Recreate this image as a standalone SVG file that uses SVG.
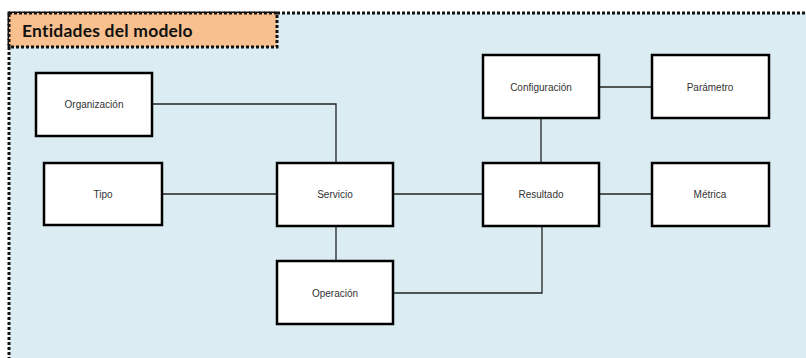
<svg xmlns="http://www.w3.org/2000/svg" width="806" height="358" viewBox="0 0 806 358">
<style>
.box{fill:#fff;stroke:#000;stroke-width:2.5}
.lbl{font-family:"Liberation Sans",Arial,sans-serif;font-size:10px;fill:#333;text-anchor:middle;dominant-baseline:central}
.conn{fill:none;stroke:#222;stroke-width:1.3}
.dot{stroke:#111;stroke-width:3;stroke-dasharray:3 2}
</style>
<rect x="9" y="13" width="800" height="350" fill="#DBEDF3"/>
<path class="dot" fill="none" d="M9,360 V13 H806"/>
<g id="title">
<rect x="9" y="13" width="268" height="34" style="fill:#F9C08F" class="dot"/>
<text x="22" y="30" font-family="Lato,'Open Sans',sans-serif" font-weight="bold" font-size="17.5" letter-spacing="0.2" fill="#111" dominant-baseline="central">Entidades del modelo</text>
</g>
<g id="connectors">
<path class="conn" d="M152,104 H336 V163"/>
<path class="conn" d="M162,194 H277"/>
<path class="conn" d="M393,194 H483"/>
<path class="conn" d="M336,226 V261"/>
<path class="conn" d="M393,293 H542 V226"/>
<path class="conn" d="M541,118 V163"/>
<path class="conn" d="M599,87 H652"/>
<path class="conn" d="M599,194 H652"/>
</g>
<g id="organizacion"><rect class="box" x="36" y="73" width="116" height="63"/><text class="lbl" x="94" y="104">Organización</text></g>
<g id="tipo"><rect class="box" x="44" y="163" width="118" height="62"/><text class="lbl" x="103" y="194">Tipo</text></g>
<g id="servicio"><rect class="box" x="277" y="163" width="116" height="63"/><text class="lbl" x="335" y="194">Servicio</text></g>
<g id="operacion"><rect class="box" x="277" y="261" width="116" height="63"/><text class="lbl" x="335" y="293">Operación</text></g>
<g id="configuracion"><rect class="box" x="483" y="55" width="116" height="63"/><text class="lbl" x="541" y="87">Configuración</text></g>
<g id="parametro"><rect class="box" x="652" y="55" width="117" height="63"/><text class="lbl" x="710" y="87">Parámetro</text></g>
<g id="resultado"><rect class="box" x="483" y="163" width="116" height="63"/><text class="lbl" x="541" y="194">Resultado</text></g>
<g id="metrica"><rect class="box" x="652" y="163" width="117" height="63"/><text class="lbl" x="710" y="194">Métrica</text></g>
</svg>
